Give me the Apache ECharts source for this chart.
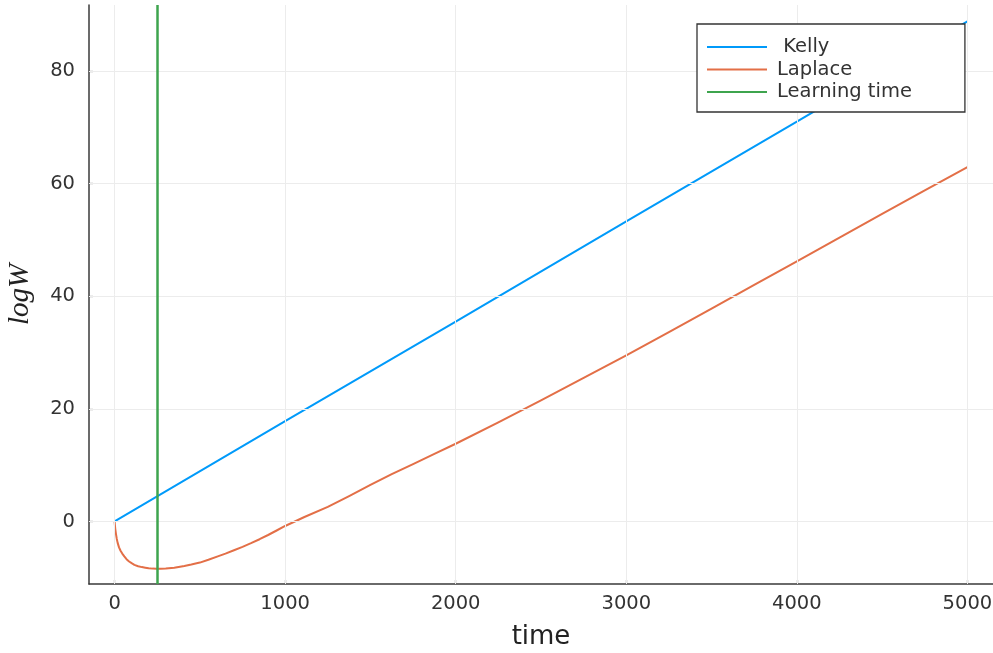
<!DOCTYPE html>
<html><head><meta charset="utf-8">
<script src="https://cdn.jsdelivr.net/npm/echarts@6/dist/echarts.min.js"></script>
<style>html,body{margin:0;padding:0;background:#fff}#c{width:993px;height:653px}</style>
</head><body><div id="c"></div>
<script>
const xTicks = [0, 1000, 2000, 3000, 4000, 5000];
const yTicks = [0, 20, 40, 60, 80];
const kellyT = [0, 1000, 2000, 3000, 4000, 5000];
const kellyV = [0, 17.8, 35.5, 53.3, 71.0, 88.8];
const laplaceT = [0, 4, 8, 13, 18, 26, 35, 45, 57, 70, 85, 100, 116, 138, 160, 180, 200, 222, 245, 270, 300, 350, 409, 450, 500, 550, 605, 650, 700, 750, 800, 850, 900, 950, 1000, 1113, 1250, 1375, 1500, 1625, 1750, 1875, 2000, 2250, 2500, 2750, 3000, 3250, 3500, 3750, 4000, 4250, 4500, 4750, 5000];
const laplaceV = [0, -1.3, -2.2, -3.1, -3.8, -4.6, -5.2, -5.7, -6.2, -6.7, -7.1, -7.4, -7.7, -7.95, -8.1, -8.2, -8.3, -8.37, -8.4, -8.4, -8.35, -8.2, -7.9, -7.65, -7.3, -6.8, -6.2, -5.7, -5.1, -4.5, -3.85, -3.15, -2.4, -1.6, -0.8, 0.8, 2.6, 4.5, 6.5, 8.4, 10.2, 12.0, 13.8, 17.6, 21.5, 25.5, 29.5, 33.6, 37.8, 42.0, 46.2, 50.4, 54.6, 58.8, 62.9];
const learningTime = 250;
const seriesNames = [' Kelly', 'Laplace', 'Learning time'];
const colors = ['#009AFA', '#E36F47', '#3EA44E'];

const zip = (a, b) => a.map((v, i) => [v, b[i]]);
const chart = echarts.init(document.getElementById('c'), null, {renderer: 'canvas'});
const axisCommon = {
  axisLine: {show: true, onZero: false, lineStyle: {color: '#3a3a3a', width: 1.5}},
  axisTick: {show: true, inside: true, length: 4, lineStyle: {color: '#3a3a3a', width: 1.2}},
  axisLabel: {color: '#333', fontSize: 19.5, fontFamily: 'DejaVu Sans', formatter: v => String(v)},
  splitLine: {show: false}
};
chart.setOption({
  animation: false,
  backgroundColor: '#fff',
  grid: {left: 89, right: 0, top: 5, bottom: 69, containLabel: false, outerBoundsMode: 'none'},
  xAxis: Object.assign({}, axisCommon, {
    type: 'value', min: -150, max: 5150,
    axisTick: Object.assign({}, axisCommon.axisTick, {customValues: xTicks}),
    axisLabel: Object.assign({}, axisCommon.axisLabel, {customValues: xTicks, margin: 10}),
    name: 'time', nameLocation: 'middle', nameGap: 40,
    nameTextStyle: {fontSize: 26, color: '#222', fontFamily: 'DejaVu Sans'}
  }),
  yAxis: Object.assign({}, axisCommon, {
    type: 'value', min: -11.1, max: 91.7,
    axisTick: Object.assign({}, axisCommon.axisTick, {customValues: yTicks}),
    axisLabel: Object.assign({}, axisCommon.axisLabel, {customValues: yTicks, margin: 14}),
    name: 'logW', nameLocation: 'middle', nameGap: 54, nameRotate: 90,
    nameTextStyle: {fontSize: 29, color: '#222', fontFamily: 'Liberation Serif', fontStyle: 'italic'}
  }),
  legend: {
    orient: 'vertical', left: 697, top: 24, z: 20,
    padding: [13, 53, 10, 10], itemGap: 2.5,
    borderColor: '#333', borderWidth: 1.3, backgroundColor: '#fff',
    itemWidth: 60, itemHeight: 18,
    textStyle: {fontSize: 19.5, lineHeight: 18, color: '#333', fontFamily: 'DejaVu Sans', padding: [0, 0, 0, 5]},
    data: seriesNames.map(n => ({name: n, icon: 'path://M0,9 L60,9 L60,11 L0,11 Z'}))
  },
  series: [
    {name: 'grid', type: 'line', data: [], silent: true,
     markLine: {symbol: 'none', silent: true, label: {show: false},
       lineStyle: {color: '#ececec', width: 1, type: 'solid'},
       data: xTicks.map(v => ({xAxis: v})).concat(yTicks.map(v => ({yAxis: v})))}},
    {name: seriesNames[0], type: 'line', showSymbol: false, data: zip(kellyT, kellyV),
     lineStyle: {color: colors[0], width: 2}, itemStyle: {color: colors[0]}, z: 3},
    {name: seriesNames[1], type: 'line', showSymbol: false, smooth: false, data: zip(laplaceT, laplaceV),
     lineStyle: {color: colors[1], width: 2, join: 'round'}, itemStyle: {color: colors[1]}, z: 3},
    {name: seriesNames[2], type: 'line', data: [], itemStyle: {color: colors[2]}, lineStyle: {color: colors[2]},
     markLine: {symbol: 'none', silent: true, label: {show: false},
       lineStyle: {color: colors[2], width: 2.5, type: 'solid'},
       data: [{xAxis: learningTime}]}, z: 4}
  ]
});
</script></body></html>
